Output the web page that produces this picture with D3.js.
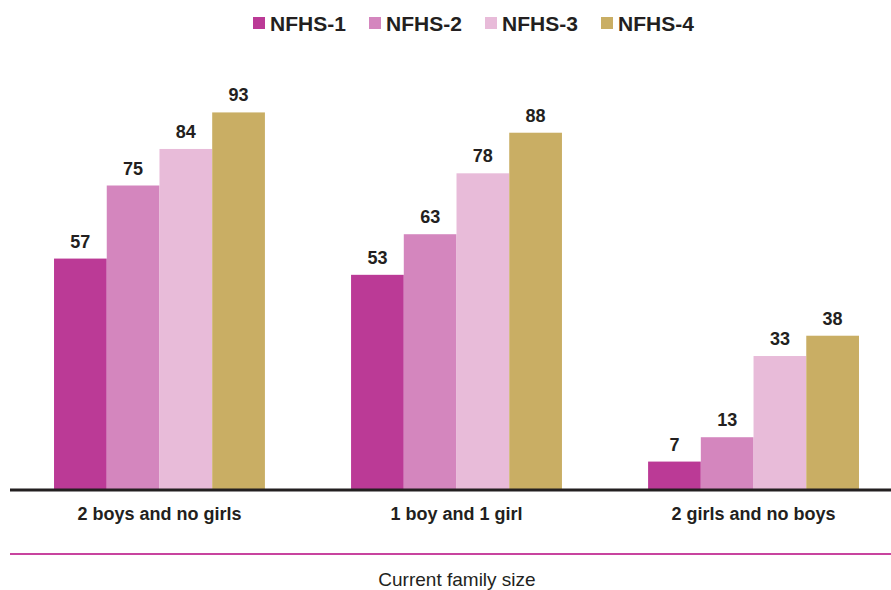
<!DOCTYPE html>
<html>
<head>
<meta charset="utf-8">
<script src="https://cdn.jsdelivr.net/npm/d3@7"></script>
<style>
  html, body { margin: 0; padding: 0; background: #fff; }
  svg { display: block; font-family: "Liberation Sans", Arial, sans-serif; }
</style>
</head>
<body>
<svg id="chart" width="891" height="590"></svg>
<script>
const categories = ["2 boys and no girls", "1 boy and 1 girl", "2 girls and no boys"];
const seriesNames = ["NFHS-1", "NFHS-2", "NFHS-3", "NFHS-4"];
const nfhs1 = [57, 53, 7];
const nfhs2 = [75, 63, 13];
const nfhs3 = [84, 78, 33];
const nfhs4 = [93, 88, 38];
const seriesValues = [nfhs1, nfhs2, nfhs3, nfhs4];
const colors = ["#BB3A96", "#D486BE", "#E8BBD9", "#C9AE64"];
const xAxisTitle = "Current family size";

const svg = d3.select("#chart");
const baseY = 490;

const x0 = d3.scaleBand().domain(categories).range([10, 891])
  .paddingInner(0.29).paddingOuter(0.128).align(0.579);
const x1 = d3.scaleBand().domain(seriesNames).range([0, x0.bandwidth()]).padding(0);
const y = d3.scaleLinear().domain([0, 100]).range([baseY, 84]);
const color = d3.scaleOrdinal().domain(seriesNames).range(colors);

const data = [];
categories.forEach((c, ci) => {
  seriesNames.forEach((s, si) => {
    data.push({ cat: c, series: s, value: seriesValues[si][ci] });
  });
});

// bars
svg.append("g").selectAll("rect").data(data).join("rect")
  .attr("x", d => x0(d.cat) + x1(d.series))
  .attr("y", d => y(d.value))
  .attr("width", x1.bandwidth())
  .attr("height", d => y(0) - y(d.value))
  .attr("fill", d => color(d.series));

// value labels
svg.append("g").selectAll("text").data(data).join("text")
  .attr("x", d => x0(d.cat) + x1(d.series) + x1.bandwidth() / 2)
  .attr("y", d => y(d.value) - 11)
  .attr("text-anchor", "middle")
  .attr("font-size", 18)
  .attr("font-weight", "bold")
  .attr("fill", "#231F20")
  .text(d => d.value);

// baseline axis
const xAxis = d3.axisBottom(x0).tickSize(0).tickPadding(0);
const axisG = svg.append("g").attr("transform", `translate(0,${baseY})`).call(xAxis);
axisG.select(".domain").attr("d", "M10,0H891").attr("stroke", "#231F20").attr("stroke-width", 3);
axisG.selectAll(".tick text")
  .attr("y", 30)
  .attr("dy", 0)
  .attr("font-size", 18)
  .attr("font-weight", "bold")
  .attr("font-family", "\"Liberation Sans\", Arial, sans-serif")
  .attr("fill", "#231F20");

// magenta separator line
svg.append("line")
  .attr("x1", 10).attr("x2", 891)
  .attr("y1", 554).attr("y2", 554)
  .attr("stroke", "#C8449F").attr("stroke-width", 2);

// x-axis title
svg.append("text")
  .attr("x", 457).attr("y", 586)
  .attr("text-anchor", "middle")
  .attr("font-size", 19)
  .attr("fill", "#231F20")
  .text(xAxisTitle);

// legend
const legend = svg.append("g").selectAll("g").data(seriesNames).join("g")
  .attr("transform", (d, i) => `translate(${253 + i * 116},0)`);
legend.append("rect")
  .attr("x", 0).attr("y", 17).attr("width", 12).attr("height", 12)
  .attr("fill", d => color(d));
legend.append("text")
  .attr("x", 17).attr("y", 31)
  .attr("font-size", 21)
  .attr("font-weight", "bold")
  .attr("fill", "#231F20")
  .text(d => d);
</script>
</body>
</html>
